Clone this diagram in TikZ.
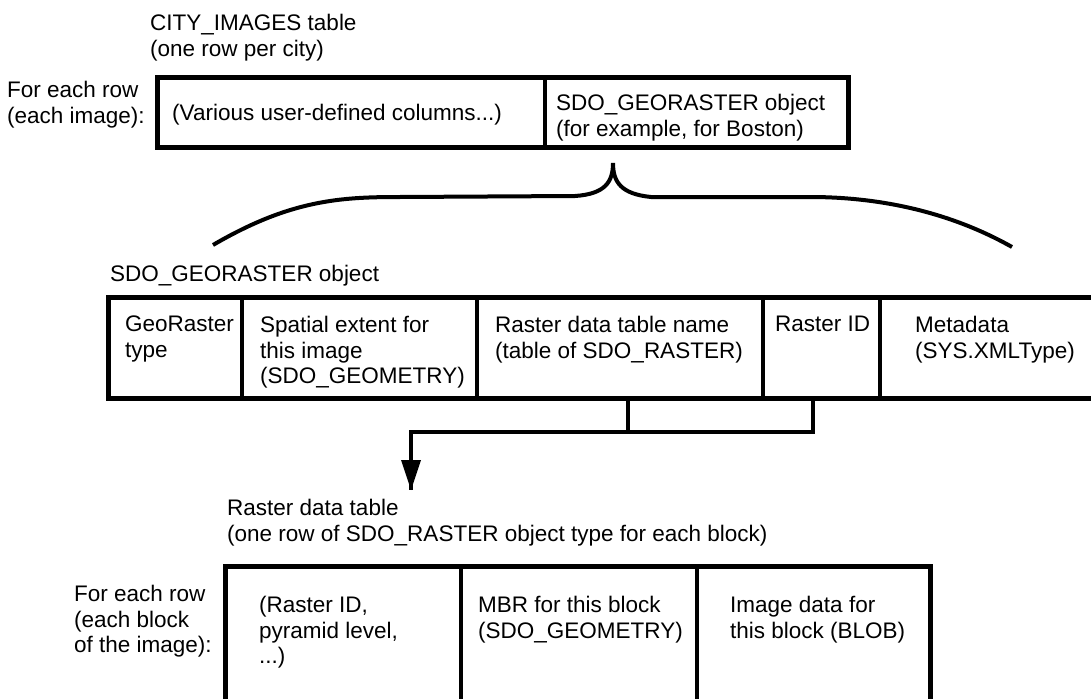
\documentclass[tikz,border=0pt]{standalone}
\usepackage{fontspec}
\setmainfont{Liberation Sans}
\usetikzlibrary{positioning}
\usetikzlibrary{arrows.meta}
\tikzstyle{cell} = [draw, line width=3.8pt, rectangle, anchor=north west, inner sep=0pt, outer sep=0pt]
\tikzstyle{txt} = [font={\fontsize{22.5}{25.5}\selectfont}, align=left, inner sep=0pt, anchor=north west]
\tikzstyle{frame} = [line width=5pt]
\tikzstyle{wire} = [line width=4pt]

\begin{document}
\begin{tikzpicture}[x=1pt, y=-1pt]
            \useasboundingbox (0,0) rectangle (1091,698);
            \node [txt] (cityttl) at (150,14) {CITY\_IMAGES table\\(one row per city)};
            \node [txt] (cityrow) at (7,81) {For each row\\(each image):};
            \node [cell, minimum width=388pt, minimum height=69pt] (usercols) at (157,78) {};
            \node [cell, minimum width=303pt, minimum height=69pt, right=0pt of usercols] (geocol) {};
            \draw [frame] (usercols.north west) rectangle (geocol.south east);
            \node [txt, below right=26pt and 15pt of usercols.north west] (usertxt) {(Various user-defined columns...)};
            \node [txt, below right=16pt and 11pt of geocol.north west] (geotxt) {SDO\_GEORASTER object\\(for example, for Boston)};
            \draw [wire] (213,245) .. controls (290,200) and (340,197) .. (400,197) -- (575,196) .. controls (605,194) and (613,182) .. (613,163)
                .. controls (613,182) and (621,194) .. (651,197) -- (810,197) .. controls (880,197) and (950,212) .. (1012,247);
            \node [txt] (geottl) at (110,265) {SDO\_GEORASTER object};
            \node [cell, minimum width=134pt, minimum height=101pt] (grtype) at (108,297) {};
            \node [cell, minimum width=235pt, minimum height=101pt, right=0pt of grtype] (extent) {};
            \node [cell, minimum width=286pt, minimum height=101pt, right=0pt of extent] (rdtname) {};
            \node [cell, minimum width=117pt, minimum height=101pt, right=0pt of rdtname] (rasterid) {};
            \node [cell, minimum width=225pt, minimum height=101pt, right=0pt of rasterid] (metadata) {};
            \draw [frame] (metadata.north east) -- (grtype.north west) -- (grtype.south west) -- (metadata.south east);
            \node [txt, below right=19pt and 17pt of grtype.north west] {GeoRaster\\type};
            \node [txt, below right=19pt and 18pt of extent.north west] {Spatial extent for\\this image\\(SDO\_GEOMETRY)};
            \node [txt, below right=19pt and 18pt of rdtname.north west] {Raster data table name\\(table of SDO\_RASTER)};
            \node [txt, below right=19pt and 12pt of rasterid.north west] {Raster ID};
            \node [txt, below right=19pt and 35pt of metadata.north west] {Metadata\\(SYS.XMLType)};
            \coordinate (bend) at (411,432);
            \coordinate (tip) at (411,490);
            \draw [wire] ([xshift=8pt]rdtname.south) -- ([xshift=8pt]rdtname.south |- bend);
            \draw [wire] ([xshift=-8.5pt]rasterid.south) |- (bend) -- (tip);
            \fill (tip) -- ++(-10,-30) -- ++(20,0) -- cycle;
            \node [txt] (rdtttl) at (227,499) {Raster data table\\(one row of SDO\_RASTER object type for each block)};
            \node [txt] (blockrow) at (74,585) {For each row\\(each block\\of the image):};
            \node [cell, minimum width=236pt, minimum height=144pt] (rasterkey) at (225,566) {};
            \node [cell, minimum width=236pt, minimum height=144pt, right=0pt of rasterkey] (mbr) {};
            \node [cell, minimum width=233pt, minimum height=144pt, right=0pt of mbr] (blob) {};
            \draw [frame] (rasterkey.south west) -- (rasterkey.north west) -- (blob.north east) -- (blob.south east);
            \node [txt, below right=30pt and 34pt of rasterkey.north west] {(Raster ID,\\pyramid level,\\...)};
            \node [txt, below right=30pt and 17pt of mbr.north west] {MBR for this block\\(SDO\_GEOMETRY)};
            \node [txt, below right=30pt and 33pt of blob.north west] {Image data for\\this block (BLOB)};
\end{tikzpicture}
\end{document}
